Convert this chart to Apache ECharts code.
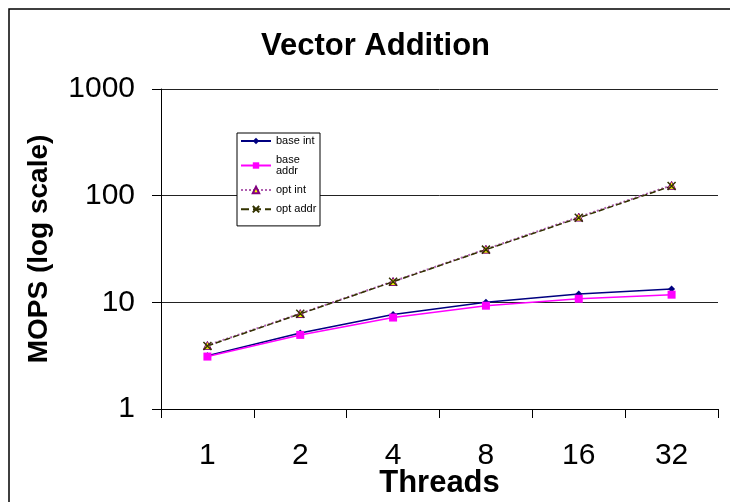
<!DOCTYPE html>
<html>
<head>
<meta charset="utf-8">
<script src="https://cdn.jsdelivr.net/npm/echarts@6/dist/echarts.min.js"></script>
<style>html,body{margin:0;padding:0;background:#fff;overflow:hidden}#c{width:730px;height:502px}</style>
</head>
<body>
<div id="c"></div>
<script>
var categories = ['1', '2', '4', '8', '16', '32'];
var baseInt = [3.15, 5.15, 7.7, 10.0, 12.0, 13.3];
var baseAddr = [3.1, 4.95, 7.2, 9.3, 10.8, 11.8];
var optInt = [3.95, 7.85, 15.7, 31.5, 63, 125];
var optAddr = [3.9, 7.8, 15.6, 31.2, 62, 123];
var seriesNames = ['base int', 'base addr', 'opt int', 'opt addr'];
var titleText = 'Vector Addition';
var xName = 'Threads';
var yName = 'MOPS (log scale)';

var font = "'Liberation Sans', Arial, sans-serif";
var crossPath = 'path://M0,0L10,10M10,0L0,10';
var chart = echarts.init(document.getElementById('c'), null, {renderer: 'canvas'});
chart.setOption({
  animation: false,
  backgroundColor: '#fff',
  graphic: [
    {type: 'polyline', shape: {points: [[9, 600], [9, 9], [800, 9]]}, style: {fill: 'none', stroke: '#000', lineWidth: 1.5}, z: -1},
    {type: 'text', x: 375.5, y: 46, style: {text: titleText, font: 'bold 31px ' + font, fill: '#000', textAlign: 'center', textVerticalAlign: 'middle', align: 'center', verticalAlign: 'middle'}}
  ],
  grid: {left: 161, right: 12, top: 89, bottom: 93, containLabel: false, outerBoundsMode: 'none'},
  legend: {
    data: seriesNames,
    orient: 'vertical',
    left: 237, top: 133,
    backgroundColor: '#fff',
    borderColor: '#000', borderWidth: 1,
    padding: [2.5, 3, 11, 3],
    itemGap: 8,
    itemWidth: 30, itemHeight: 8,
    textStyle: {fontFamily: font, fontSize: 11, lineHeight: 11, width: 41, overflow: 'break', color: '#000'}
  },
  xAxis: {
    type: 'category', data: categories,
    name: xName, nameLocation: 'middle', nameGap: 59, nameMoveOverlap: false,
    nameTextStyle: {fontFamily: font, fontWeight: 'bold', fontSize: 31, color: '#000'},
    axisLine: {lineStyle: {color: '#000', width: 1}},
    axisTick: {show: true, length: 9, inside: false, interval: 0, lineStyle: {color: '#000'}},
    axisLabel: {fontFamily: font, fontSize: 30, color: '#000', margin: 32},
    splitLine: {show: false}
  },
  yAxis: {
    type: 'log', logBase: 10, min: 1, max: 1000,
    name: yName, nameLocation: 'middle', nameGap: 108, nameRotate: 90, nameMoveOverlap: false,
    nameTextStyle: {fontFamily: font, fontWeight: 'bold', fontSize: 28, color: '#000'},
    axisLine: {show: true, lineStyle: {color: '#000', width: 1}},
    axisTick: {show: true, length: 9, inside: false, lineStyle: {color: '#000'}},
    axisLabel: {fontFamily: font, fontSize: 30, color: '#000', margin: 26, formatter: function (v) { return String(v); }},
    minorTick: {show: false},
    splitLine: {show: true, lineStyle: {color: '#222', width: 1}}
  },
  series: [
    {name: seriesNames[0], type: 'line', data: baseInt, color: '#000080',
     symbol: 'diamond', symbolSize: 7, lineStyle: {width: 1.5, color: '#000080'}, itemStyle: {color: '#000080'}},
    {name: seriesNames[1], type: 'line', data: baseAddr, color: '#FF00FF',
     symbol: 'rect', symbolSize: 8, lineStyle: {width: 1.5, color: '#FF00FF'}, itemStyle: {color: '#FF00FF'}},
    {name: seriesNames[2], type: 'line', data: optInt, color: '#800080',
     symbol: 'triangle', symbolSize: 8, lineStyle: {width: 2, type: 'dotted', color: '#B060B0'}, itemStyle: {color: '#FFFF00', borderColor: '#800080', borderWidth: 1}},
    {name: seriesNames[3], type: 'line', data: optAddr, color: '#333300',
     symbol: crossPath, symbolSize: 8, lineStyle: {width: 1.5, type: 'dashed', color: '#333300'}, itemStyle: {color: 'none', borderColor: '#333300', borderWidth: 1.5}}
  ]
});
</script>
</body>
</html>
